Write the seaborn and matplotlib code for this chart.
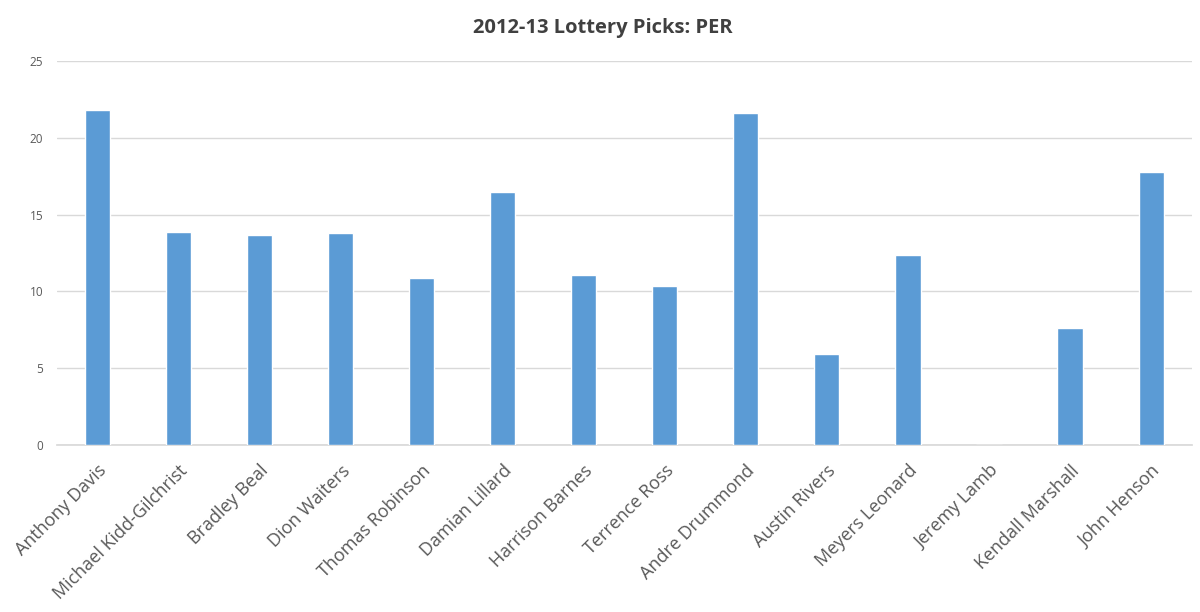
import matplotlib
matplotlib.use("Agg")
import matplotlib.pyplot as plt
import seaborn as sns
import pandas as pd

players = ["Anthony Davis", "Michael Kidd-Gilchrist", "Bradley Beal", "Dion Waiters",
           "Thomas Robinson", "Damian Lillard", "Harrison Barnes", "Terrence Ross",
           "Andre Drummond", "Austin Rivers", "Meyers Leonard", "Jeremy Lamb",
           "Kendall Marshall", "John Henson"]
per = [21.8, 13.9, 13.7, 13.8, 10.9, 16.5, 11.1, 10.35, 21.6, 5.9, 12.4, 0.0, 7.6, 17.8]
yticks = [0, 5, 10, 15, 20, 25]

df = pd.DataFrame({"player": players, "per": per})

sns.set_theme(style="white")
plt.rcParams['font.family'] = ['Open Sans', 'DejaVu Sans']

fig = plt.figure(figsize=(12, 6.12), dpi=100)
ax = fig.add_axes([0.0475, 0.273, 0.9455, 0.627])
sns.barplot(data=df, x="player", y="per", color="#5B9BD5", width=0.31, ax=ax,
            saturation=1, zorder=3)

ax.set_ylim(0, 25)
ax.set_yticks(yticks)
ax.set_yticklabels([str(t) for t in yticks], fontsize=8.5, color="#595959")
ax.set_xlim(-0.5, len(players) - 0.5)
ax.set_xticks(range(len(players)))
ax.set_xticklabels(players, rotation=45, ha="right", rotation_mode="anchor",
                   fontsize=13, color="#595959")
ax.tick_params(axis="x", length=0, pad=12)
ax.tick_params(axis="y", length=0, pad=10)
ax.yaxis.grid(True, color="#d9d9d9", linewidth=1, zorder=0)
for s in ["top", "right", "left"]:
    ax.spines[s].set_visible(False)
ax.spines["bottom"].set_color("#d9d9d9")
ax.set_xlabel("")
ax.set_ylabel("")
fig.text(0.5025, 0.955, "2012-13 Lottery Picks: PER", ha="center", va="center",
         fontsize=14.5, fontweight="bold", color="#404040")

fig.savefig("out.png", dpi=100, facecolor="white")
